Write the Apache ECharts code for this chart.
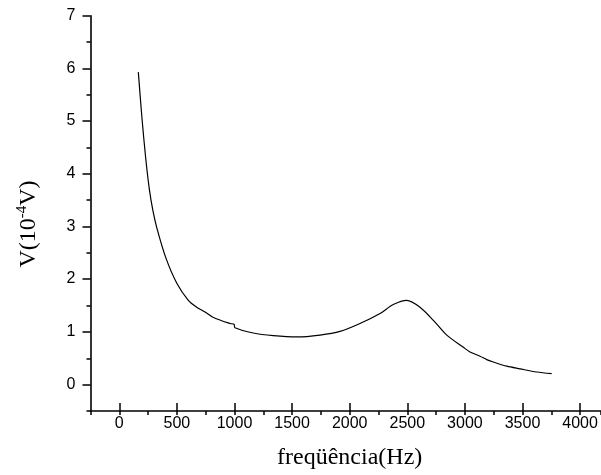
<!DOCTYPE html>
<html>
<head>
<meta charset="utf-8">
<script src="https://cdn.jsdelivr.net/npm/echarts@6/dist/echarts.min.js"></script>
<style>html,body{margin:0;padding:0;background:#fff;}#c{width:601px;height:475px;}</style>
</head>
<body>
<div id="c"></div>
<script>
const freq = [165, 197, 229, 260, 290, 325, 405, 498, 599, 672, 744, 813, 961, 996, 1004, 1163, 1337, 1540, 1742, 1916, 2089, 2263, 2378, 2495, 2610, 2726, 2842, 2986, 3044, 3131, 3189, 3246, 3363, 3478, 3623, 3753];
const volt = [5.93, 5.05, 4.30, 3.72, 3.32, 2.98, 2.40, 1.93, 1.60, 1.47, 1.38, 1.28, 1.16, 1.145, 1.08, 0.98, 0.93, 0.905, 0.94, 1.01, 1.16, 1.35, 1.52, 1.60, 1.47, 1.22, 0.94, 0.71, 0.62, 0.54, 0.475, 0.43, 0.35, 0.30, 0.24, 0.21];
const xTickMin = 0, xTickMax = 4000, xTickStep = 500;
const yTickMin = 0, yTickMax = 7, yTickStep = 1;
const xMin = -250, xMax = 4181;
const yMin = -0.5, yMax = 7;

const chart = echarts.init(document.getElementById('c'), null, {renderer: 'canvas'});
const lab = {color: '#000', fontFamily: 'Liberation Sans, Arial, sans-serif', fontSize: 16, formatter: v => String(v)};
const axLine = {show: true, onZero: false, lineStyle: {color: '#000', width: 1.6}};
const noLine = {show: false, onZero: false};
const hidden = {show: false};
const tickStyle = {color: '#000', width: 1.5};
chart.setOption({
  animation: false,
  backgroundColor: '#fff',
  grid: [
    {left: 90.5, top: 15.7, right: 0, bottom: 64, containLabel: false},
    {left: 119.3, top: 15.7, right: 20.9, bottom: 64, containLabel: false},
    {left: 90.5, top: 15.7, right: 0, bottom: 90.7, containLabel: false}
  ],
  xAxis: [
    {type: 'value', gridIndex: 0, min: xMin, max: xMax, interval: 250, position: 'bottom',
     axisLine: axLine, splitLine: hidden,
     axisTick: {show: true, length: 4, lineStyle: tickStyle},
     axisLabel: hidden},
    {type: 'value', gridIndex: 1, min: xTickMin, max: xTickMax, interval: xTickStep, position: 'bottom',
     axisLine: noLine, splitLine: hidden,
     axisTick: {show: true, length: 8, lineStyle: tickStyle},
     axisLabel: Object.assign({margin: 13}, lab),
     name: 'freqüência(Hz)', nameLocation: 'middle', nameGap: 43,
     nameTextStyle: {color: '#000', fontFamily: 'Liberation Serif, Times New Roman, serif', fontSize: 24}},
    {type: 'value', gridIndex: 2, min: xMin, max: xMax, show: false}
  ],
  yAxis: [
    {type: 'value', gridIndex: 0, min: yMin, max: yMax, interval: 0.5, position: 'left',
     axisLine: axLine, splitLine: hidden,
     axisTick: {show: true, length: 4, lineStyle: tickStyle},
     axisLabel: hidden},
    {type: 'value', gridIndex: 1, min: yMin, max: yMax, show: false},
    {type: 'value', gridIndex: 2, min: yTickMin, max: yTickMax, interval: yTickStep, position: 'left',
     axisLine: noLine, splitLine: hidden,
     axisTick: {show: true, length: 8, lineStyle: tickStyle},
     axisLabel: Object.assign({margin: 15}, lab)}
  ],
  graphic: [{
    type: 'text', x: 28, y: 224, rotation: Math.PI / 2,
    style: {
      text: '{a|V(10}{s|-4}{a|V)}',
      align: 'center', verticalAlign: 'middle',
      rich: {
        a: {fontFamily: 'Liberation Serif, Times New Roman, serif', fontSize: 24, lineHeight: 26, fill: '#000', verticalAlign: 'bottom'},
        s: {fontFamily: 'Liberation Serif, Times New Roman, serif', fontSize: 15, lineHeight: 15, fill: '#000', verticalAlign: 'top'}
      }
    }
  }],
  series: [{
    type: 'line', xAxisIndex: 0, yAxisIndex: 0,
    data: freq.map((f, i) => [f, volt[i]]),
    showSymbol: false, smooth: 0.3,
    lineStyle: {color: '#000', width: 1.2}
  }]
});
</script>
</body>
</html>
